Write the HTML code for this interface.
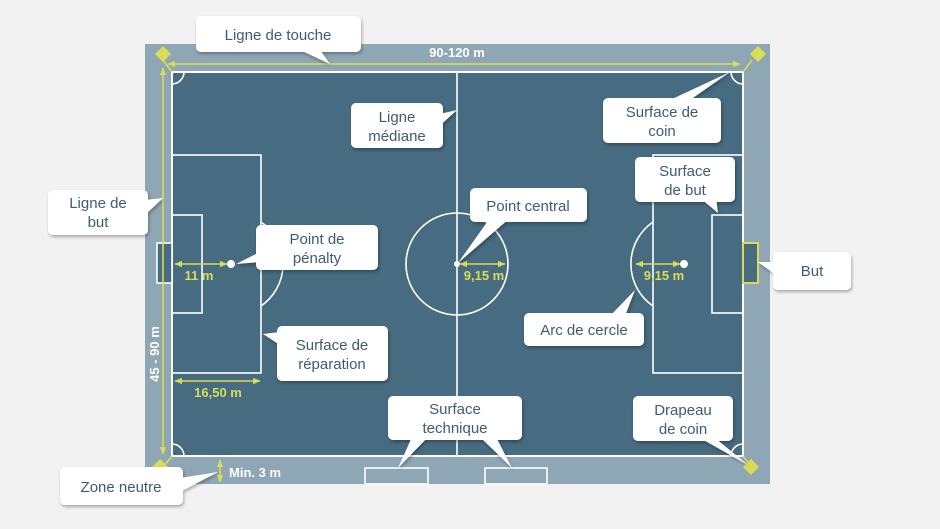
<!DOCTYPE html>
<html><head><meta charset="utf-8"><style>
html,body{margin:0;padding:0;background:#f2f2f2;}
svg{display:block;}
text{font-family:"Liberation Sans",sans-serif;}
.c{fill:#3f5c6e;font-size:15px;text-anchor:middle;}
.y{fill:#d8dd55;font-size:13px;font-weight:bold;text-anchor:middle;}
</style></head><body>
<svg width="940" height="529" viewBox="0 0 940 529">
<defs>
<filter id="sh" x="-20%" y="-20%" width="140%" height="150%"><feDropShadow dx="1" dy="2" stdDeviation="1.5" flood-color="#000" flood-opacity="0.3"/></filter>
<marker id="ar" viewBox="0 0 10 10" refX="9" refY="5" markerWidth="5" markerHeight="5" orient="auto-start-reverse"><path d="M0,1 L10,5 L0,9 z" fill="#d8dd55"/></marker>
</defs>
<rect x="0" y="0" width="940" height="529" fill="#f2f2f2"/>
<rect x="145" y="44" width="625" height="440" fill="#8fa6b4"/>
<rect x="172" y="72" width="571" height="384" fill="#476b80" stroke="#fff" stroke-width="2"/>
<g stroke="#fff" stroke-width="1.6" fill="none">
<line x1="457" y1="72" x2="457" y2="456"/>
<circle cx="457" cy="264" r="51"/>
<rect x="172" y="155" width="89" height="218"/>
<rect x="172" y="215" width="30" height="98"/>
<rect x="653" y="155" width="90" height="218"/>
<rect x="712" y="215" width="31" height="98"/>
<path d="M261,222 A51,51 0 0 1 261,306"/>
<path d="M653,222 A51,51 0 0 0 653,306"/>
<path d="M172,84 A12,12 0 0 0 184,72"/>
<path d="M731,72 A12,12 0 0 0 743,84"/>
<path d="M172,444 A12,12 0 0 1 184,456"/>
<path d="M743,444 A12,12 0 0 0 731,456"/>
<rect x="157" y="243" width="15" height="40" fill="#476b80"/>
<rect x="365" y="468" width="63" height="16" fill="#8fa6b4"/>
<rect x="485" y="468" width="62" height="16" fill="#8fa6b4"/>
</g>
<rect x="743" y="243" width="15" height="40" fill="#476b80" stroke="#d8dd55" stroke-width="2"/>
<circle cx="231" cy="264" r="4" fill="#fff"/>
<circle cx="684" cy="264" r="4" fill="#fff"/>
<circle cx="457" cy="264" r="3" fill="#fff"/>
<g stroke="#d8dd55" stroke-width="1.6">
<line x1="168" y1="64" x2="740" y2="64" marker-start="url(#ar)" marker-end="url(#ar)"/>
<line x1="163" y1="68" x2="163" y2="454" marker-start="url(#ar)" marker-end="url(#ar)"/>
<line x1="175" y1="264" x2="227" y2="264" marker-start="url(#ar)" marker-end="url(#ar)"/>
<line x1="460" y1="264" x2="505" y2="264" marker-start="url(#ar)" marker-end="url(#ar)"/>
<line x1="636" y1="264" x2="680" y2="264" marker-start="url(#ar)" marker-end="url(#ar)"/>
<line x1="175" y1="381" x2="260" y2="381" marker-start="url(#ar)" marker-end="url(#ar)"/>
<line x1="220" y1="460" x2="220" y2="482" marker-start="url(#ar)" marker-end="url(#ar)"/>
<line x1="172" y1="72" x2="163" y2="60"/>
<line x1="743" y1="72" x2="752" y2="60"/>
<line x1="172" y1="456" x2="163" y2="467"/>
<line x1="743" y1="456" x2="750" y2="465"/>
</g>
<g fill="#d8dd55">
<polygon points="155,54 163,46 171,54 163,62"/>
<polygon points="750,54 758,46 766,54 758,62"/>
<polygon points="152,467 160,459 168,467 160,475"/>
<polygon points="743,467 751,459 759,467 751,475"/>
</g>
<text x="457" y="57" fill="#fff" font-size="13" font-weight="bold" text-anchor="middle">90-120 m</text>
<text transform="translate(159,354) rotate(-90)" fill="#fff" font-size="13" font-weight="bold" text-anchor="middle">45 - 90 m</text>
<text class="y" x="199" y="280">11 m</text>
<text class="y" x="484" y="280">9,15 m</text>
<text class="y" x="664" y="280">9,15 m</text>
<text class="y" x="218" y="397">16,50 m</text>
<text x="229" y="477" fill="#fff" font-size="13" font-weight="bold">Min. 3 m</text>
<g fill="#fff" filter="url(#sh)">
<polygon points="300,50 320,50 330,64"/><rect x="196" y="16" width="165" height="36" rx="5"/>
<polygon points="435,115 435,130 457,110"/><rect x="351" y="103" width="92" height="45" rx="5"/>
<polygon points="670,100 690,100 730,72"/><rect x="603" y="98" width="118" height="45" rx="5"/>
<polygon points="700,198 716,198 718,213"/><rect x="635" y="157" width="100" height="45" rx="5"/>
<polygon points="145,200 145,215 163,198"/><rect x="48" y="190" width="100" height="45" rx="5"/>
<polygon points="490,218 510,218 458,263"/><rect x="470" y="188" width="117" height="34" rx="5"/>
<polygon points="260,252 260,262 236,264"/><rect x="256" y="225" width="122" height="45" rx="5"/>
<polygon points="776,262 776,275 758,262"/><rect x="773" y="252" width="78" height="38" rx="5"/>
<polygon points="610,316 625,316 635,290"/><rect x="524" y="313" width="120" height="33" rx="5"/>
<polygon points="280,332 280,345 263,334"/><rect x="277" y="326" width="111" height="55" rx="5"/>
<polygon points="412,437 428,437 398,468"/><polygon points="480,437 496,437 512,468"/><rect x="388" y="396" width="134" height="44" rx="5"/>
<polygon points="700,438 715,438 748,465"/><rect x="633" y="396" width="100" height="45" rx="5"/>
<polygon points="180,478 180,492 218,472"/><rect x="60" y="467" width="123" height="38" rx="5"/>
</g>
<text class="c" x="278" y="40">Ligne de touche</text>
<text class="c" x="397" y="122">Ligne</text><text class="c" x="397" y="141">médiane</text>
<text class="c" x="662" y="117">Surface de</text><text class="c" x="662" y="136">coin</text>
<text class="c" x="685" y="176">Surface</text><text class="c" x="685" y="195">de but</text>
<text class="c" x="98" y="208">Ligne de</text><text class="c" x="98" y="227">but</text>
<text class="c" x="528" y="211">Point central</text>
<text class="c" x="317" y="244">Point de</text><text class="c" x="317" y="263">pénalty</text>
<text class="c" x="812" y="276">But</text>
<text class="c" x="584" y="335">Arc de cercle</text>
<text class="c" x="332" y="350">Surface de</text><text class="c" x="332" y="369">réparation</text>
<text class="c" x="455" y="414">Surface</text><text class="c" x="455" y="433">technique</text>
<text class="c" x="683" y="415">Drapeau</text><text class="c" x="683" y="434">de coin</text>
<text class="c" x="121" y="492">Zone neutre</text>
</svg>
</body></html>
